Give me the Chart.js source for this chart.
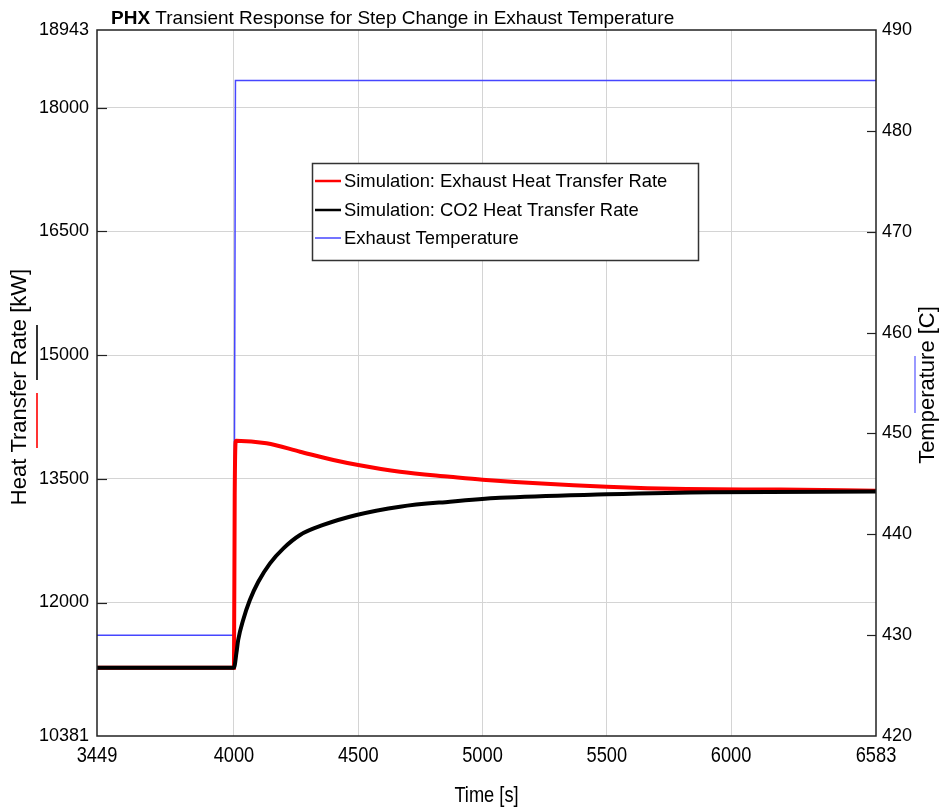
<!DOCTYPE html>
<html>
<head>
<meta charset="utf-8">
<title>PHX Transient Response</title>
<script src="https://cdn.jsdelivr.net/npm/chart.js@4"></script>
<style>
  html, body { margin: 0; padding: 0; background: #fff; }
  #wrap { width: 939px; height: 810px; position: relative; }
</style>
</head>
<body>
<div id="wrap"><canvas id="grafik"></canvas></div>
<script>
// tick values for the three axes
const xTicks = [3449, 4000, 4500, 5000, 5500, 6000, 6583];
const rateTicks = [10381, 12000, 13500, 15000, 16500, 18000, 18943];
const tempTicks = [420, 430, 440, 450, 460, 470, 480, 490];

// simulation: exhaust heat transfer rate [kW]
const exhaustTime = [3449, 4000, 4003, 4008, 4131, 4266, 4400, 4500, 4668, 4869, 5000, 5500, 5820, 6200, 6583];
const exhaustRate = [11210, 11210, 13300, 13962, 13931, 13829, 13728, 13667, 13586, 13526, 13490, 13404, 13376, 13370, 13356];

// simulation: CO2 heat transfer rate [kW]
const co2Time = [3449, 4000, 4010, 4017, 4037, 4064, 4098, 4145, 4199, 4266, 4359, 4493, 4668, 4869, 5070, 5500, 5920, 6583];
const co2Rate = [11210, 11210, 11390, 11545, 11788, 12030, 12252, 12475, 12657, 12819, 12940, 13061, 13162, 13223, 13270, 13312, 13338, 13345];

// exhaust temperature [C]
const tempTime = [3449, 4000, 4006, 6583];
const tempValue = [430, 430, 485, 485];

const toPoints = (xs, ys) => xs.map((x, i) => ({ x: x, y: ys[i] }));

const FONT = "'Liberation Sans', Arial, sans-serif";

// condensed text: no narrow face installed, so squeeze the regular one
function teksSempit(c, teks, x, y, ukuran, skala) {
  c.save();
  c.font = ukuran + 'px ' + FONT;
  c.translate(x, y);
  c.scale(skala, 1);
  c.fillText(teks, 0, 0);
  c.restore();
}

// frame, inward tick marks, titles, axis markers and the legend box
const hiasan = {
  id: 'hiasan',
  afterDraw(chart) {
    const c = chart.ctx;
    const a = chart.chartArea;
    const yL = chart.scales.y, yR = chart.scales.y1, sx = chart.scales.x;
    c.save();

    // plot frame
    c.strokeStyle = '#222';
    c.lineWidth = 1.5;
    c.strokeRect(a.left, a.top, a.right - a.left, a.bottom - a.top);

    // inward ticks
    c.lineWidth = 1.2;
    rateTicks.slice(1, -1).forEach(v => {
      const y = Math.round(yL.getPixelForValue(v)) + 0.5;
      c.beginPath(); c.moveTo(a.left, y); c.lineTo(a.left + 10, y); c.stroke();
    });
    tempTicks.slice(1, -1).forEach(v => {
      const y = Math.round(yR.getPixelForValue(v)) + 0.5;
      c.beginPath(); c.moveTo(a.right, y); c.lineTo(a.right - 9, y); c.stroke();
    });

    // x tick labels, condensed
    c.fillStyle = '#000';
    c.textAlign = 'center';
    c.textBaseline = 'middle';
    xTicks.forEach(v => {
      teksSempit(c, String(v), sx.getPixelForValue(v), 756, 22, 0.83);
    });

    // x axis title
    teksSempit(c, 'Time [s]', (a.left + a.right) / 2, 796, 22, 0.83);

    // chart title: bold "PHX" then the rest
    c.textBaseline = 'alphabetic';
    c.textAlign = 'left';
    c.font = 'bold 19px ' + FONT;
    c.fillText('PHX', 111, 24);
    const w = c.measureText('PHX ').width;
    c.font = '19px ' + FONT;
    c.fillText('Transient Response for Step Change in Exhaust Temperature', 111 + w, 24);

    // left axis title, reads bottom to top
    c.textAlign = 'center';
    c.textBaseline = 'middle';
    c.font = '22px ' + FONT;
    c.save();
    c.translate(20, 387);
    c.rotate(-Math.PI / 2);
    c.fillText('Heat Transfer Rate [kW]', 0, 0);
    c.restore();

    // right axis title, also bottom to top
    c.save();
    c.translate(928, 385);
    c.rotate(-Math.PI / 2);
    c.fillText('Temperature [C]', 0, 0);
    c.restore();

    // colour markers next to the axis titles
    const ds = chart.data.datasets;
    c.lineWidth = 1.6;
    c.strokeStyle = ds[1].borderColor;
    c.beginPath(); c.moveTo(37, 325); c.lineTo(37, 380); c.stroke();
    c.strokeStyle = ds[0].borderColor;
    c.beginPath(); c.moveTo(37, 393); c.lineTo(37, 448); c.stroke();
    c.strokeStyle = '#8080ff';
    c.beginPath(); c.moveTo(915, 356); c.lineTo(915, 413); c.stroke();

    // legend
    const lx = 312, ly = 163, lw = 386, lh = 97;
    c.fillStyle = '#fff';
    c.fillRect(lx, ly, lw, lh);
    c.strokeStyle = '#333';
    c.lineWidth = 1.5;
    c.strokeRect(lx + 0.5, ly + 0.5, lw, lh);
    c.font = '18.4px ' + FONT;
    c.textAlign = 'left';
    c.textBaseline = 'middle';
    const rows = [181, 210, 238];
    ds.forEach((d, i) => {
      c.strokeStyle = d.borderColor;
      c.lineWidth = i === 2 ? 1.5 : 2.5;
      c.beginPath(); c.moveTo(315, rows[i]); c.lineTo(341, rows[i]); c.stroke();
      c.fillStyle = '#000';
      c.fillText(d.label, 344, rows[i] + 1);
    });

    c.restore();
  }
};

const gridColor = n => ctx => (ctx.index === 0 || ctx.index === n - 1) ? 'rgba(0,0,0,0)' : '#d4d4d4';

new Chart(document.getElementById('grafik'), {
  type: 'line',
  data: {
    datasets: [
      {
        label: 'Simulation: Exhaust Heat Transfer Rate',
        data: toPoints(exhaustTime, exhaustRate),
        borderColor: '#ff0000',
        borderWidth: 4,
        pointRadius: 0,
        cubicInterpolationMode: 'monotone',
        yAxisID: 'y',
        order: 1
      },
      {
        label: 'Simulation: CO2 Heat Transfer Rate',
        data: toPoints(co2Time, co2Rate),
        borderColor: '#000000',
        borderWidth: 4,
        pointRadius: 0,
        cubicInterpolationMode: 'monotone',
        yAxisID: 'y',
        order: 0
      },
      {
        label: 'Exhaust Temperature',
        data: toPoints(tempTime, tempValue),
        borderColor: '#4646ff',
        borderWidth: 1.5,
        pointRadius: 0,
        tension: 0,
        yAxisID: 'y1',
        order: 2
      }
    ]
  },
  options: {
    responsive: true,
    maintainAspectRatio: false,
    animation: false,
    layout: { padding: { top: 30, left: 0, right: 0, bottom: 0 } },
    plugins: {
      legend: { display: false },
      title: { display: false },
      tooltip: { enabled: false }
    },
    scales: {
      x: {
        type: 'linear',
        min: 3449,
        max: 6583,
        afterBuildTicks: s => { s.ticks = xTicks.map(v => ({ value: v })); },
        afterFit: s => { s.height = 74; },
        grid: { color: gridColor(xTicks.length), drawTicks: false },
        border: { display: false },
        ticks: { display: false }
      },
      y: {
        type: 'linear',
        position: 'left',
        min: 10381,
        max: 18943,
        afterBuildTicks: s => { s.ticks = rateTicks.map(v => ({ value: v })); },
        afterFit: s => { s.width = 97; },
        grid: { color: gridColor(rateTicks.length), drawTicks: false },
        border: { display: false },
        ticks: {
          padding: 8,
          color: '#000',
          font: { family: FONT, size: 18 },
          callback: v => String(v)
        }
      },
      y1: {
        type: 'linear',
        position: 'right',
        min: 420,
        max: 490,
        afterBuildTicks: s => { s.ticks = tempTicks.map(v => ({ value: v })); },
        afterFit: s => { s.width = 63; },
        grid: { display: false, drawTicks: false },
        border: { display: false },
        ticks: {
          padding: 6,
          color: '#000',
          font: { family: FONT, size: 18 },
          callback: v => String(v)
        }
      }
    }
  },
  plugins: [hiasan]
});
</script>
</body>
</html>
